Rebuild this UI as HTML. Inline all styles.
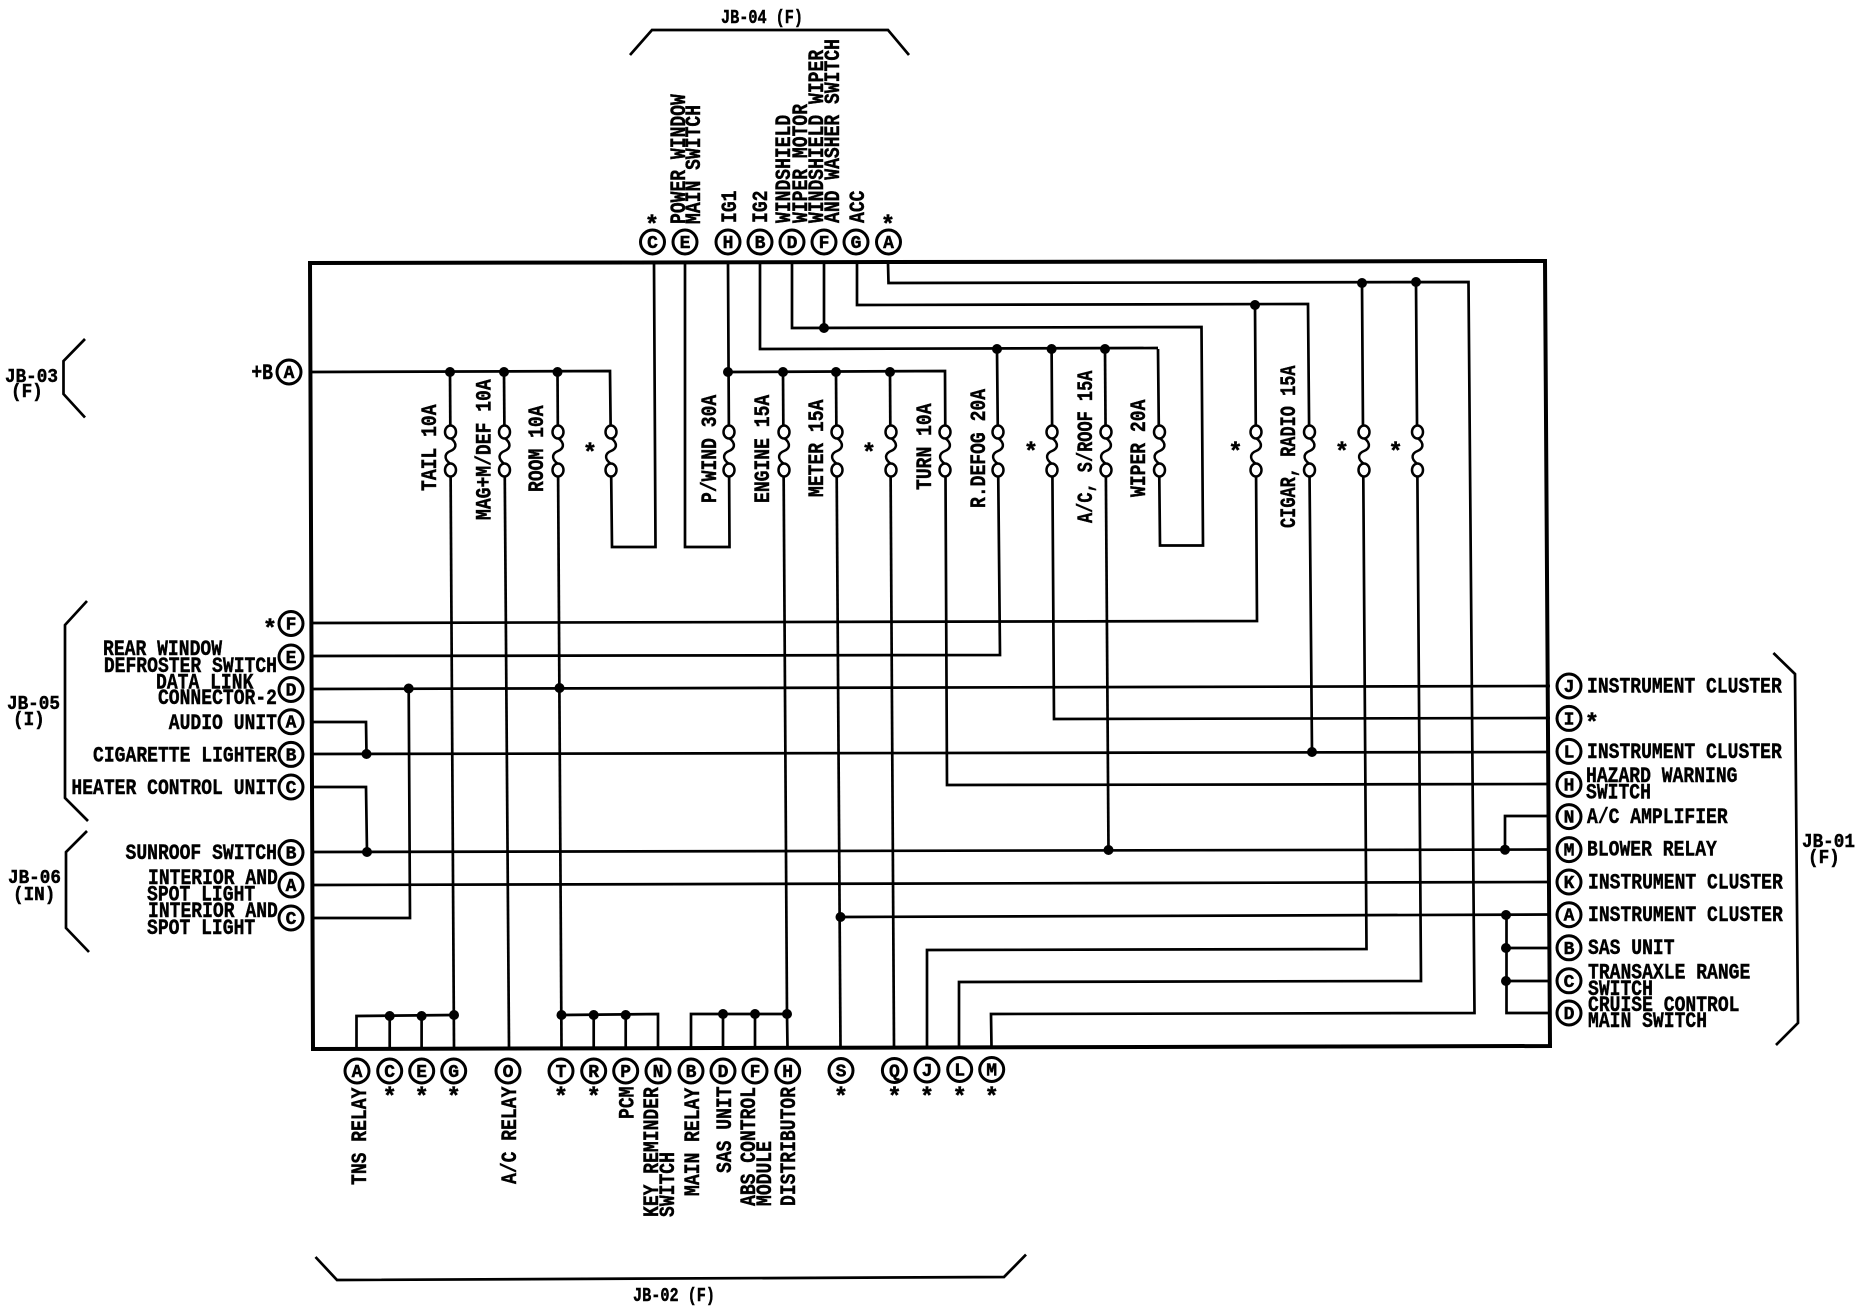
<!DOCTYPE html>
<html><head><meta charset="utf-8"><style>
html,body{margin:0;padding:0;background:#fff}
svg{display:block}
text{font-family:"Liberation Mono","DejaVu Sans Mono",monospace;font-weight:bold;fill:#000;stroke:#000;stroke-width:.45px}
.t{font-size:22px}
.j{font-size:19px}
.c{font-size:18px;text-anchor:middle}
.s{font-size:24px;text-anchor:middle}
.e{text-anchor:end}
.w polyline{fill:none;stroke:#000;stroke-width:2.7;stroke-linejoin:miter}
.d circle{fill:#000}
.o circle{fill:#fff;stroke:#000;stroke-width:3;r:12px}
</style></head><body>
<svg xmlns="http://www.w3.org/2000/svg" width="1860" height="1312" viewBox="0 0 1860 1312">
<defs><g id="f"><rect x="-5" y="438" width="10" height="26" fill="#fff"/><path d="M0,438C8,444 5,449 0,451C-5,453 -8,458 0,464" fill="none" stroke="#000" stroke-width="2.5"/><ellipse cx="0" cy="432" rx="5.5" ry="6.5" fill="#fff" stroke="#000" stroke-width="2.5"/><ellipse cx="0" cy="470" rx="5.5" ry="6.5" fill="#fff" stroke="#000" stroke-width="2.5"/></g></defs>
<rect width="1860" height="1312" fill="#fff"/>
<polygon points="310,263 1545,261 1550,1046 313,1049" fill="none" stroke="#000" stroke-width="4"/>
<g class="w">
<polyline points="888,263 888.5,283 1468.5,282 1474.5,1013 991,1014 991.5,1047"/>
<polyline points="857,263 857,305 1308,304 1312,752"/>
<polyline points="1255,305 1257,621 313,623"/>
<polyline points="1362,283 1366.5,949 927,950 927,1048"/>
<polyline points="1416,282 1421,981 959,982 959,1047"/>
<polyline points="792,263 792,328 1201.5,327 1203,545.5 1160,545.5 1158,349"/>
<polyline points="824,263 824,328"/>
<polyline points="760,263 760,349 1158,348"/>
<polyline points="997,349 1000,655 313,656"/>
<polyline points="1051.6,349 1054,719 1550,718"/>
<polyline points="1105,349 1108.5,850"/>
<polyline points="313,852 1550,849.5"/>
<polyline points="728,263 729.5,547 685,547 685,263"/>
<polyline points="728,372 945,371 947,785 1550,784"/>
<polyline points="783,372 787,1015"/>
<polyline points="836,372 840.5,1047"/>
<polyline points="890,372 894,1047"/>
<polyline points="312,372 610,371 612,547 655.5,547 654,263"/>
<polyline points="450,372 454,1047"/>
<polyline points="504,372 509,1047"/>
<polyline points="557.5,372 561.5,1047"/>
<polyline points="356.5,1047 356.5,1016 454,1015"/>
<polyline points="389.7,1016 389.7,1047"/>
<polyline points="421.6,1016 421.6,1047"/>
<polyline points="658,1047 658,1014 561.5,1015"/>
<polyline points="593.7,1015 593.7,1047"/>
<polyline points="625.7,1015 625.7,1047"/>
<polyline points="691,1047 691,1014 787,1014 787.5,1047"/>
<polyline points="723,1014 723,1047"/>
<polyline points="755,1014 755,1047"/>
<polyline points="313,689 1550,686"/>
<polyline points="408.7,688 410,918 313,918"/>
<polyline points="313,754 1550,752"/>
<polyline points="313,722 366,722 366.5,754"/>
<polyline points="313,787 366,787 367,852"/>
<polyline points="313,885 1550,882"/>
<polyline points="840.5,917 1550,914.5"/>
<polyline points="1550,816 1505,816 1505,850"/>
<polyline points="1506.5,915 1506.5,1013 1550,1013"/>
<polyline points="1506.5,948 1550,948"/>
<polyline points="1506.5,981 1550,981"/>
<polyline points="630,55 652,30 888,30 909,55"/>
<polyline points="85,339 63.5,361 63.5,394 85,417.5"/>
<polyline points="87,601 65,625 65,798 88,821"/>
<polyline points="87,831 66,852 66,928 89,952"/>
<polyline points="1773.4,653 1795,674 1798,1023 1776,1045"/>
<polyline points="315.5,1257 337,1280 1004,1277 1026,1254.6"/>
</g>
<use href="#f" x="450.5"/><use href="#f" x="504.5"/><use href="#f" x="558"/><use href="#f" x="611"/><use href="#f" x="729"/><use href="#f" x="784"/><use href="#f" x="837"/><use href="#f" x="891"/><use href="#f" x="945"/><use href="#f" x="998"/><use href="#f" x="1052"/><use href="#f" x="1106"/><use href="#f" x="1159.5"/><use href="#f" x="1256"/><use href="#f" x="1309.5"/><use href="#f" x="1364"/><use href="#f" x="1417.5"/>
<g class="d">
<circle cx="450" cy="372" r="5"/><circle cx="504" cy="372" r="5"/><circle cx="557.5" cy="372" r="5"/><circle cx="728" cy="372" r="5"/><circle cx="783" cy="372" r="5"/><circle cx="836" cy="372" r="5"/><circle cx="890" cy="372" r="5"/><circle cx="997" cy="349" r="5"/><circle cx="1051.6" cy="349" r="5"/><circle cx="1105" cy="349" r="5"/><circle cx="1362" cy="283" r="5"/><circle cx="1416" cy="282" r="5"/><circle cx="1255" cy="305" r="5"/><circle cx="824" cy="328" r="5"/><circle cx="408.7" cy="688.5" r="5"/><circle cx="559.5" cy="688" r="5"/><circle cx="366.5" cy="754" r="5"/><circle cx="367" cy="852" r="5"/><circle cx="840.5" cy="917" r="5"/><circle cx="1108.5" cy="850" r="5"/><circle cx="1312" cy="752" r="5"/><circle cx="1505" cy="849.7" r="5"/><circle cx="1506" cy="915" r="5"/><circle cx="1506" cy="948" r="5"/><circle cx="1506" cy="981" r="5"/><circle cx="389.7" cy="1016" r="5"/><circle cx="421.6" cy="1016" r="5"/><circle cx="454" cy="1015" r="5"/><circle cx="561.5" cy="1015" r="5"/><circle cx="593.7" cy="1015" r="5"/><circle cx="625.7" cy="1015" r="5"/><circle cx="723" cy="1014" r="5"/><circle cx="755" cy="1014" r="5"/><circle cx="787" cy="1014" r="5"/>
</g>
<g class="o">
<circle cx="652.5" cy="242" r="11"/><circle cx="685" cy="242" r="11"/><circle cx="728" cy="242" r="11"/><circle cx="760" cy="242" r="11"/><circle cx="792" cy="242" r="11"/><circle cx="824" cy="242" r="11"/><circle cx="856" cy="242" r="11"/><circle cx="888.5" cy="242" r="11"/>
<circle cx="289" cy="372" r="11"/>
<circle cx="291" cy="623.5" r="11"/><circle cx="291" cy="657" r="11"/><circle cx="291" cy="689.5" r="11"/><circle cx="291" cy="721.7" r="11"/><circle cx="291" cy="754.4" r="11"/><circle cx="291" cy="787" r="11"/><circle cx="291" cy="852.5" r="11"/><circle cx="291" cy="885" r="11"/><circle cx="291" cy="918" r="11"/>
<circle cx="357" cy="1071" r="11"/><circle cx="389.7" cy="1071" r="11"/><circle cx="421.7" cy="1071" r="11"/><circle cx="453.7" cy="1071" r="11"/><circle cx="508" cy="1071" r="11"/><circle cx="561" cy="1071" r="11"/><circle cx="593.7" cy="1071" r="11"/><circle cx="625.7" cy="1071" r="11"/><circle cx="658" cy="1071" r="11"/><circle cx="691" cy="1071" r="11"/><circle cx="723" cy="1071" r="11"/><circle cx="755" cy="1071" r="11"/><circle cx="787.7" cy="1071" r="11"/><circle cx="841" cy="1070.5" r="11"/><circle cx="894.4" cy="1070.5" r="11"/><circle cx="927" cy="1070" r="11"/><circle cx="959.7" cy="1069.5" r="11"/><circle cx="991.7" cy="1069.5" r="11"/>
<circle cx="1569" cy="686" r="11"/><circle cx="1569" cy="718.4" r="11"/><circle cx="1569" cy="751.4" r="11"/><circle cx="1569" cy="784.4" r="11"/><circle cx="1569" cy="816.6" r="11"/><circle cx="1569" cy="849.6" r="11"/><circle cx="1569" cy="882" r="11"/><circle cx="1569" cy="914.7" r="11"/><circle cx="1569" cy="947.8" r="11"/><circle cx="1569" cy="980.8" r="11"/><circle cx="1569" cy="1013" r="11"/>
</g>
<g>
<text class="c" x="652.5" y="248">C</text><text class="c" x="685" y="248">E</text><text class="c" x="728" y="248">H</text><text class="c" x="760" y="248">B</text><text class="c" x="792" y="248">D</text><text class="c" x="824" y="248">F</text><text class="c" x="856" y="248">G</text><text class="c" x="888.5" y="248">A</text>
<text class="c" x="289" y="378">A</text>
<text class="c" x="291" y="629.5">F</text><text class="c" x="291" y="663">E</text><text class="c" x="291" y="695.5">D</text><text class="c" x="291" y="727.7">A</text><text class="c" x="291" y="760.4">B</text><text class="c" x="291" y="793">C</text><text class="c" x="291" y="858.5">B</text><text class="c" x="291" y="891">A</text><text class="c" x="291" y="924">C</text>
<text class="c" x="357" y="1077">A</text><text class="c" x="389.7" y="1077">C</text><text class="c" x="421.7" y="1077">E</text><text class="c" x="453.7" y="1077">G</text><text class="c" x="508" y="1077">O</text><text class="c" x="561" y="1077">T</text><text class="c" x="593.7" y="1077">R</text><text class="c" x="625.7" y="1077">P</text><text class="c" x="658" y="1077">N</text><text class="c" x="691" y="1077">B</text><text class="c" x="723" y="1077">D</text><text class="c" x="755" y="1077">F</text><text class="c" x="787.7" y="1077">H</text><text class="c" x="841" y="1076.5">S</text><text class="c" x="894.4" y="1076.5">Q</text><text class="c" x="927" y="1076">J</text><text class="c" x="959.7" y="1075.5">L</text><text class="c" x="991.7" y="1075.5">M</text>
<text class="c" x="1569" y="692">J</text><text class="c" x="1569" y="724.4">I</text><text class="c" x="1569" y="757.4">L</text><text class="c" x="1569" y="790.4">H</text><text class="c" x="1569" y="822.6">N</text><text class="c" x="1569" y="855.6">M</text><text class="c" x="1569" y="888">K</text><text class="c" x="1569" y="920.7">A</text><text class="c" x="1569" y="953.8">B</text><text class="c" x="1569" y="986.8">C</text><text class="c" x="1569" y="1019">D</text>
</g>
<!-- stars -->
<text class="s" x="652" y="232">*</text><text class="s" x="888" y="232">*</text>
<text class="s" x="270" y="636">*</text>
<text class="s" x="590" y="460">*</text><text class="s" x="869" y="460">*</text><text class="s" x="1031" y="459">*</text><text class="s" x="1235.5" y="459">*</text><text class="s" x="1342" y="459">*</text><text class="s" x="1395.6" y="459">*</text>
<text class="s" x="389.7" y="1104">*</text><text class="s" x="421.7" y="1104">*</text><text class="s" x="453.7" y="1104">*</text><text class="s" x="561" y="1104">*</text><text class="s" x="593.7" y="1104">*</text><text class="s" x="841" y="1104">*</text><text class="s" x="894.4" y="1104">*</text><text class="s" x="927" y="1104">*</text><text class="s" x="959.7" y="1104">*</text><text class="s" x="991.7" y="1104">*</text>
<text class="s" x="1592" y="730">*</text>
<!-- top rotated -->
<text class="t" transform="translate(685,224) rotate(-90) scale(.82,1)">POWER WINDOW</text>
<text class="t" transform="translate(700,224) rotate(-90) scale(.82,1)">MAIN SWITCH</text>
<text class="t" transform="translate(736,223) rotate(-90) scale(.82,1)">IG1</text>
<text class="t" transform="translate(767,223) rotate(-90) scale(.82,1)">IG2</text>
<text class="t" transform="translate(790,223) rotate(-90) scale(.82,1)">WINDSHIELD</text>
<text class="t" transform="translate(807,223) rotate(-90) scale(.82,1)">WIPER MOTOR</text>
<text class="t" transform="translate(823,223) rotate(-90) scale(.82,1)">WINDSHIELD WIPER</text>
<text class="t" transform="translate(839,223) rotate(-90) scale(.82,1)">AND WASHER SWITCH</text>
<text class="t" transform="translate(864,223) rotate(-90) scale(.82,1)">ACC</text>
<!-- fuse labels -->
<text class="t" transform="translate(436,491) rotate(-90) scale(.82,1)">TAIL 10A</text>
<text class="t" transform="translate(490.5,520) rotate(-90) scale(.82,1)">MAG+M/DEF 10A</text>
<text class="t" transform="translate(543,492) rotate(-90) scale(.82,1)">ROOM 10A</text>
<text class="t" transform="translate(716,503) rotate(-90) scale(.82,1)">P/WIND 30A</text>
<text class="t" transform="translate(769,503) rotate(-90) scale(.82,1)">ENGINE 15A</text>
<text class="t" transform="translate(823,497) rotate(-90) scale(.82,1)">METER 15A</text>
<text class="t" transform="translate(931,490) rotate(-90) scale(.82,1)">TURN 10A</text>
<text class="t" transform="translate(985,508) rotate(-90) scale(.82,1)">R.DEFOG 20A</text>
<text class="t" transform="translate(1092,523) rotate(-90) scale(.77,1)">A/C, S/ROOF 15A</text>
<text class="t" transform="translate(1145,497) rotate(-90) scale(.82,1)">WIPER 20A</text>
<text class="t" transform="translate(1295,528) rotate(-90) scale(.77,1)">CIGAR, RADIO 15A</text>
<!-- bottom rotated -->
<text class="t" transform="translate(366,1185) rotate(-90) scale(.82,1)">TNS RELAY</text>
<text class="t" transform="translate(516,1184) rotate(-90) scale(.82,1)">A/C RELAY</text>
<text class="t" transform="translate(633.5,1119) rotate(-90) scale(.82,1)">PCM</text>
<text class="t" transform="translate(658,1217) rotate(-90) scale(.82,1)">KEY REMINDER</text>
<text class="t" transform="translate(674,1217) rotate(-90) scale(.82,1)">SWITCH</text>
<text class="t" transform="translate(699,1196) rotate(-90) scale(.82,1)">MAIN RELAY</text>
<text class="t" transform="translate(731,1173) rotate(-90) scale(.82,1)">SAS UNIT</text>
<text class="t" transform="translate(755,1206) rotate(-90) scale(.82,1)">ABS CONTROL</text>
<text class="t" transform="translate(771,1206) rotate(-90) scale(.82,1)">MODULE</text>
<text class="t" transform="translate(795,1206) rotate(-90) scale(.82,1)">DISTRIBUTOR</text>
<!-- left labels -->
<text class="t e" transform="translate(273,379) scale(.82,1)">+B</text>
<text class="t" transform="translate(103,655) scale(.82,1)">REAR WINDOW</text>
<text class="t e" transform="translate(277,672) scale(.82,1)">DEFROSTER SWITCH</text>
<text class="t" transform="translate(156,688.5) scale(.82,1)">DATA LINK</text>
<text class="t e" transform="translate(277,704) scale(.82,1)">CONNECTOR-2</text>
<text class="t e" transform="translate(277,729) scale(.82,1)">AUDIO UNIT</text>
<text class="t e" transform="translate(277,761.7) scale(.82,1)">CIGARETTE LIGHTER</text>
<text class="t e" transform="translate(277,794) scale(.82,1)">HEATER CONTROL UNIT</text>
<text class="t e" transform="translate(277,859) scale(.82,1)">SUNROOF SWITCH</text>
<text class="t" transform="translate(148,884) scale(.82,1)">INTERIOR AND</text>
<text class="t" transform="translate(147,900.6) scale(.82,1)">SPOT LIGHT</text>
<text class="t" transform="translate(148,917) scale(.82,1)">INTERIOR AND</text>
<text class="t" transform="translate(147,934) scale(.82,1)">SPOT LIGHT</text>
<!-- right labels -->
<text class="t" transform="translate(1587,692.7) scale(.82,1)">INSTRUMENT CLUSTER</text>
<text class="t" transform="translate(1587,758) scale(.82,1)">INSTRUMENT CLUSTER</text>
<text class="t" transform="translate(1586,782) scale(.82,1)">HAZARD WARNING</text>
<text class="t" transform="translate(1586,798.6) scale(.82,1)">SWITCH</text>
<text class="t" transform="translate(1587,823) scale(.82,1)">A/C AMPLIFIER</text>
<text class="t" transform="translate(1587,855.6) scale(.82,1)">BLOWER RELAY</text>
<text class="t" transform="translate(1588,888.6) scale(.82,1)">INSTRUMENT CLUSTER</text>
<text class="t" transform="translate(1588,921) scale(.82,1)">INSTRUMENT CLUSTER</text>
<text class="t" transform="translate(1588,954) scale(.82,1)">SAS UNIT</text>
<text class="t" transform="translate(1588,978.6) scale(.82,1)">TRANSAXLE RANGE</text>
<text class="t" transform="translate(1588,995) scale(.82,1)">SWITCH</text>
<text class="t" transform="translate(1588,1011) scale(.82,1)">CRUISE CONTROL</text>
<text class="t" transform="translate(1588,1027) scale(.82,1)">MAIN SWITCH</text>
<!-- connector groups -->
<text class="j" transform="translate(721,23) scale(.8,1)">JB-04 (F)</text>
<text class="j" transform="translate(5,382) scale(.93,1)">JB-03</text>
<text class="j" transform="translate(11,397) scale(.93,1)">(F)</text>
<text class="j" transform="translate(7,709) scale(.93,1)">JB-05</text>
<text class="j" transform="translate(13,725) scale(.93,1)">(I)</text>
<text class="j" transform="translate(8,883) scale(.93,1)">JB-06</text>
<text class="j" transform="translate(13,900) scale(.93,1)">(IN)</text>
<text class="j" transform="translate(1802,847) scale(.93,1)">JB-01</text>
<text class="j" transform="translate(1808,863) scale(.93,1)">(F)</text>
<text class="j" transform="translate(633,1301) scale(.8,1)">JB-02 (F)</text>
</svg>
</body></html>
